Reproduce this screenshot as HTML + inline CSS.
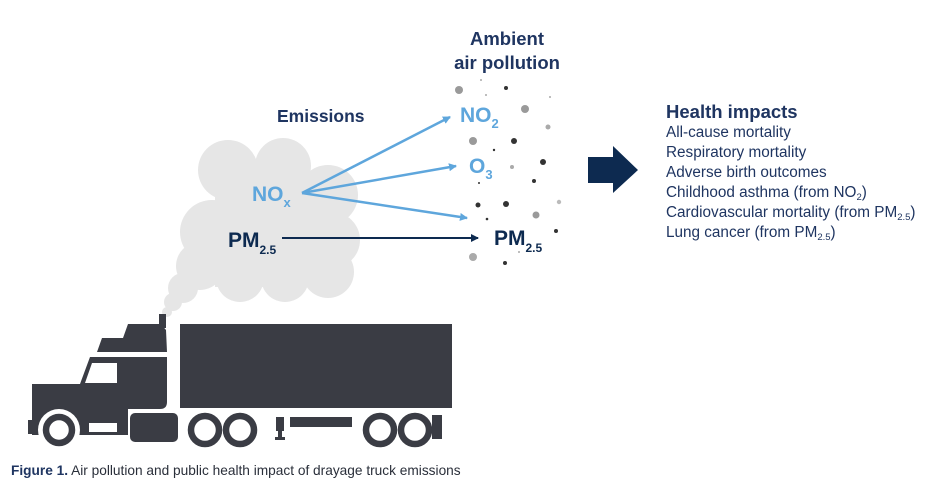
<!DOCTYPE html>
<html><head><meta charset="utf-8"><style>
body{margin:0;background:#fff;width:952px;height:499px;overflow:hidden;font-family:"Liberation Sans",sans-serif}
</style></head><body>
<svg width="952" height="499" viewBox="0 0 952 499" xmlns="http://www.w3.org/2000/svg" font-family="Liberation Sans, sans-serif">
<defs>
<marker id="ab" markerWidth="8" markerHeight="8" refX="7" refY="4" orient="auto" markerUnits="userSpaceOnUse"><path d="M0,0 L8,4 L0,8 Z" fill="#5ea6dc"/></marker>
<marker id="ad" markerWidth="8" markerHeight="8" refX="7" refY="4" orient="auto" markerUnits="userSpaceOnUse"><path d="M0,0 L8,4 L0,8 Z" fill="#0d2a50"/></marker>
</defs>
<!-- cloud -->
<g fill="#e6e6e6">
<circle cx="228" cy="170" r="30"/><circle cx="283" cy="166" r="28"/><circle cx="328" cy="195" r="30"/>
<circle cx="332" cy="240" r="28"/><circle cx="328" cy="272" r="26"/><circle cx="285" cy="278" r="24"/>
<circle cx="240" cy="278" r="24"/><circle cx="212" cy="232" r="32"/><circle cx="200" cy="266" r="24"/>
<rect x="215" y="172" width="125" height="115"/>
<circle cx="183" cy="288" r="15"/><circle cx="173" cy="302" r="9"/><circle cx="167" cy="312" r="5"/>
</g>
<!-- dots -->
<g>
<circle cx="459" cy="90" r="4" fill="#9a9a9a"/><circle cx="506" cy="88" r="2" fill="#333"/><circle cx="525" cy="109" r="4" fill="#9a9a9a"/>
<circle cx="548" cy="127" r="2.5" fill="#aaa"/><circle cx="473" cy="141" r="4" fill="#9a9a9a"/><circle cx="514" cy="141" r="3" fill="#333"/>
<circle cx="494" cy="150" r="1.2" fill="#333"/><circle cx="512" cy="167" r="2" fill="#aaa"/><circle cx="543" cy="162" r="3" fill="#333"/>
<circle cx="534" cy="181" r="2" fill="#333"/><circle cx="479" cy="183" r="1" fill="#333"/><circle cx="478" cy="205" r="2.5" fill="#333"/>
<circle cx="506" cy="204" r="3" fill="#333"/><circle cx="559" cy="202" r="2.2" fill="#bbb"/><circle cx="536" cy="215" r="3.5" fill="#9a9a9a"/>
<circle cx="487" cy="219" r="1.3" fill="#333"/><circle cx="556" cy="231" r="2" fill="#333"/><circle cx="473" cy="257" r="4" fill="#aaa"/>
<circle cx="505" cy="263" r="2" fill="#333"/><circle cx="519" cy="252" r="1" fill="#aaa"/><circle cx="481" cy="80" r="1" fill="#aaa"/>
<circle cx="486" cy="95" r="1" fill="#aaa"/><circle cx="550" cy="97" r="1" fill="#aaa"/>
</g>
<!-- arrows -->
<g stroke="#5ea6dc" stroke-width="2.5" fill="none">
<line x1="302" y1="193" x2="450" y2="117" marker-end="url(#ab)"/>
<line x1="302" y1="193" x2="456" y2="166" marker-end="url(#ab)"/>
<line x1="302" y1="193" x2="467" y2="218" marker-end="url(#ab)"/>
</g>
<line x1="282" y1="238" x2="478" y2="238" stroke="#0d2a50" stroke-width="2" marker-end="url(#ad)"/>
<!-- labels -->
<g font-weight="bold" fill="#1f3561">
<text x="277" y="122" font-size="17.5">Emissions</text>
<text x="507" y="45" text-anchor="middle" font-size="18.5">Ambient</text>
<text x="507" y="69" text-anchor="middle" font-size="18.5">air pollution</text>
</g>
<g font-weight="bold" fill="#5ea6dc" font-size="21">
<text x="460" y="122">NO<tspan font-size="13" dy="6">2</tspan></text>
<text x="469" y="173">O<tspan font-size="13" dy="6">3</tspan></text>
<text x="252" y="201">NO<tspan font-size="13" dy="6">x</tspan></text>
</g>
<g font-weight="bold" fill="#0d2a50" font-size="21">
<text x="228" y="247">PM<tspan font-size="12" dy="7">2.5</tspan></text>
<text x="494" y="245">PM<tspan font-size="12" dy="7">2.5</tspan></text>
</g>
<!-- big arrow -->
<path d="M588,157 L613,157 L613,146 L638,170 L613,193 L613,183 L588,183 Z" fill="#0d2a50"/>
<!-- health impacts -->
<text x="666" y="118" font-weight="bold" font-size="18.5" fill="#1f3561">Health impacts</text>
<g font-size="15.3" fill="#1f3561">
<text x="666" y="137">All-cause mortality</text>
<text x="666" y="157">Respiratory mortality</text>
<text x="666" y="177">Adverse birth outcomes</text>
<text x="666" y="197">Childhood asthma (from NO<tspan font-size="9.5" dy="3">2</tspan><tspan dy="-3">)</tspan></text>
<text x="666" y="217">Cardiovascular mortality (from PM<tspan font-size="9.5" dy="3">2.5</tspan><tspan dy="-3">)</tspan></text>
<text x="666" y="237">Lung cancer (from PM<tspan font-size="9.5" dy="3">2.5</tspan><tspan dy="-3">)</tspan></text>
</g>
<!-- truck -->
<g fill="#3a3c44">
<rect x="180" y="324" width="272" height="84"/>
<rect x="159" y="314" width="7" height="14"/>
<path d="M128,324 L161,324 L166,330 L167,352 L97,352 L102,338 L123,338 Z"/>
<path d="M90,357 L167,357 L167,402 Q167,409 160,409 L128,409 L128,435 L32,435 L32,384 L80,384 Z"/>
<rect x="28" y="420" width="5" height="14"/>
<rect x="130" y="413" width="48" height="29" rx="5"/>
<rect x="290" y="417" width="62" height="10"/>
<rect x="276" y="417" width="8" height="14"/><rect x="278" y="430" width="4" height="8"/><rect x="275" y="437" width="10" height="3"/>
<rect x="432" y="415" width="10" height="24"/>
</g>
<path d="M92,363 L117,363 L117,383 L85,383 Z" fill="#fff"/>
<rect x="89" y="423" width="28" height="9" fill="#fff"/>
<circle cx="59" cy="430" r="21" fill="#fff"/>
<g fill="#fff" stroke="#3a3c44" stroke-width="6.5">
<circle cx="59" cy="430" r="13"/><circle cx="205" cy="430" r="14"/><circle cx="240" cy="430" r="14"/>
<circle cx="380" cy="430" r="14"/><circle cx="415" cy="430" r="14"/>
</g>
<text x="11" y="475" font-size="13.7" fill="#2a2f3a"><tspan font-weight="bold" fill="#1f3561">Figure 1.</tspan> Air pollution and public health impact of drayage truck emissions</text>
</svg>
</body></html>
